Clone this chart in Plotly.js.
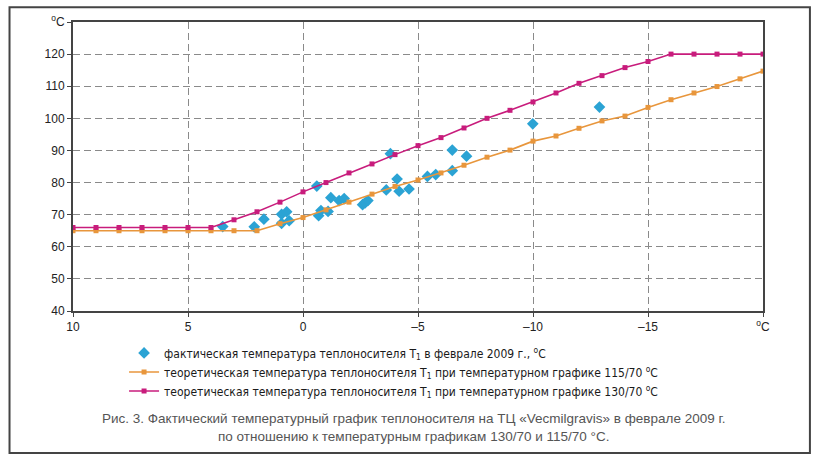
<!DOCTYPE html>
<html>
<head>
<meta charset="utf-8">
<script src="https://cdn.plot.ly/plotly-3.0.1.min.js"></script>
<style>
html,body{margin:0;padding:0;background:#fff;}
#chart{width:826px;height:456px;}
</style>
</head>
<body>
<div id="chart"></div>
<script>
// Outdoor temperature (x) for the theoretical curves
const outdoorT = [10,9,8,7,6,5,4,3,2,1,0,-1,-2,-3,-4,-5,-6,-7,-8,-9,-10,-11,-12,-13,-14,-15,-16,-17,-18,-19,-20];
// Theoretical T1, schedule 130/70
const t130 = [66,66,66,66,66,66,66,68.4,70.9,73.9,77.1,80,83,85.8,88.7,91.5,94,97,100,102.5,105.1,107.9,110.9,113.3,115.8,117.7,120,120,120,120,120];
// Theoretical T1, schedule 115/70
const t115 = [65,65,65,65,65,65,65,65,65,67.2,69.1,71.5,73.9,76.4,78.8,80.8,83,85.4,87.9,90.1,92.9,94.5,96.9,99.2,100.7,103.4,105.8,107.9,109.9,112.3,114.7];
// Actual T1, February 2009
const factX = [3.49,2.12,1.70,0.93,0.71,0.93,0.60,-0.60,-0.68,-0.78,-1.09,-1.21,-1.57,-1.79,-2.59,-2.70,-2.82,-3.62,-3.80,-4.09,-4.18,-4.61,-5.41,-5.77,-6.49,-6.49,-7.11,-9.99,-12.89];
const factY = [66.3,66.2,68.6,70.1,70.9,67.3,68.1,78.9,69.7,71.3,71.0,75.3,74.4,75.0,73.1,73.7,74.4,77.7,89.0,81.1,77.3,78.0,81.9,82.5,90.1,83.7,88.2,98.3,103.5];
// Tick labels
const xTickVals = [10,5,0,-5,-10,-15,-20];
const xTickText = ['10','5','0','–5','–10','–15','<sup>o</sup>C'];
const yTickVals = [40,50,60,70,80,90,100,110,120,130];
const yTickText = ['40','50','60','70','80','90','100','110','120','<sup>o</sup>C'];

const legendNames = [
  'фактическая температура теплоносителя T<sub>1</sub> в феврале 2009 г., <sup>o</sup>C',
  'теоретическая температура теплоносителя T<sub>1</sub> при температурном графике 115/70 <sup>o</sup>C',
  'теоретическая температура теплоносителя T<sub>1</sub> при температурном графике 130/70 <sup>o</sup>C'
];
const caption = 'Рис. 3. Фактический температурный график теплоносителя на ТЦ «Vecmilgravis» в феврале 2009 г.<br>по отношению к температурным графикам 130/70 и 115/70 °C.';

const cBlue = '#2ba3d4', cOrange = '#e8963c', cMag = '#c81c7c';

const traces = [
  {x: factX, y: factY, mode: 'markers', type: 'scatter', name: legendNames[0],
   marker: {symbol: 'diamond', size: 9, color: cBlue}},
  {x: outdoorT, y: t115, mode: 'lines+markers', type: 'scatter', name: legendNames[1],
   line: {color: cOrange, width: 1.6}, marker: {symbol: 'square', size: 5, color: cOrange}},
  {x: outdoorT, y: t130, mode: 'lines+markers', type: 'scatter', name: legendNames[2],
   line: {color: cMag, width: 1.6}, marker: {symbol: 'square', size: 5, color: cMag}}
];

const axisFont = {family: 'Liberation Sans, Arial, sans-serif', size: 12, color: '#222'};

const layout = {
  width: 826, height: 456,
  margin: {l: 73, r: 63, t: 22, b: 145},
  paper_bgcolor: '#fff', plot_bgcolor: '#fff',
  showlegend: true,
  legend: {x: 0.074, y: -0.095, xanchor: 'left', yanchor: 'top', orientation: 'v',
    font: {family: 'Liberation Sans Narrow, DejaVu Sans Condensed, Arial, sans-serif', size: 12, color: '#1a1a1a'},
    tracegroupgap: 2, bgcolor: 'rgba(0,0,0,0)'},
  xaxis: {range: [10, -20], tickvals: xTickVals, ticktext: xTickText, tickfont: axisFont,
    showgrid: true, gridcolor: '#8a8a8a', griddash: '7px,4px', gridwidth: 1,
    showline: true, linecolor: '#444', linewidth: 2, mirror: true,
    ticks: 'outside', ticklen: 4, tickcolor: '#444', zeroline: false},
  yaxis: {range: [40, 130], tickvals: yTickVals, ticktext: yTickText, tickfont: axisFont,
    showgrid: true, gridcolor: '#8a8a8a', griddash: '7px,4px', gridwidth: 1,
    showline: true, linecolor: '#444', linewidth: 2, mirror: true,
    ticks: 'outside', ticklen: 4, tickcolor: '#444', zeroline: false},
  shapes: [
    {type: 'rect', xref: 'paper', yref: 'paper', x0: -0.092, x1: 1.068, y0: -0.491, y1: 1.051,
     line: {color: '#444', width: 2}, fillcolor: 'rgba(0,0,0,0)', layer: 'below'}
  ],
  annotations: [
    {xref: 'paper', yref: 'paper', x: 0.493, y: -0.338, xanchor: 'center', yanchor: 'top',
     text: caption, showarrow: false, align: 'center',
     font: {family: 'Liberation Sans Narrow, Liberation Sans, Arial, sans-serif', size: 13.5, color: '#555'}}
  ]
};

Plotly.newPlot('chart', traces, layout, {displayModeBar: false, staticPlot: true});
</script>
</body>
</html>
